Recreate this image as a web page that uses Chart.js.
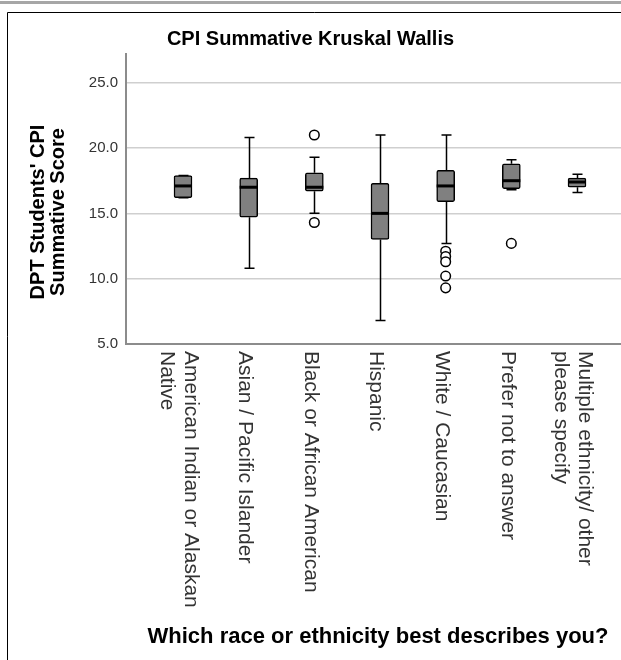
<!DOCTYPE html>
<html><head><meta charset="utf-8">
<script src="https://cdn.jsdelivr.net/npm/chart.js@4.4.0/dist/chart.umd.min.js"></script>
<style>html,body{margin:0;padding:0;background:#fff;} #wrap{width:621px;height:660px;position:relative;}</style>
</head><body><div id="wrap"><canvas id="c" width="621" height="660"></canvas></div>
<script>
const categories = [
  ["American Indian or Alaskan", "Native"],
  ["Asian / Pacific Islander"],
  ["Black or African American"],
  ["Hispanic"],
  ["White / Caucasian"],
  ["Prefer not to answer"],
  ["Multiple ethnicity/ other", "please specify"]
];
const positions   = [1, 2, 3, 4, 5, 6, 7];
const whiskerLow  = [16.2, 10.8, 15.0, 6.8, 12.7, 16.8, 16.6];
const q1          = [16.2, 14.7, 16.7, 13.0, 15.9, 16.9, 17.0];
const median      = [17.1, 17.0, 17.0, 15.0, 17.1, 17.5, 17.4];
const q3          = [17.9, 17.7, 18.1, 17.3, 18.3, 18.8, 17.7];
const whiskerHigh = [17.9, 20.8, 19.3, 21.0, 21.0, 19.1, 18.0];
const outliers    = [[], [], [21.0, 14.3], [], [12.1, 11.7, 11.3, 10.2, 9.3], [12.7], []];
const yTicks      = [5, 10, 15, 20, 25];

const chartTitle = "CPI Summative Kruskal Wallis";
const yTitle = ["DPT Students' CPI", "Summative Score"];
const xTitle = "Which race or ethnicity best describes you?";

const FONT = "'Liberation Sans', Arial, sans-serif";

const framePlugin = {
  id: 'frame',
  beforeDraw(chart) {
    const ctx = chart.ctx;
    ctx.save();
    ctx.fillStyle = '#fff';
    ctx.fillRect(0, 0, chart.width, chart.height);
    ctx.fillStyle = '#a6a6a6';
    ctx.fillRect(0, 1, chart.width, 3);
    ctx.strokeStyle = '#000';
    ctx.lineWidth = 1;
    ctx.beginPath();
    ctx.moveTo(7.5, chart.height);
    ctx.lineTo(7.5, 12.5);
    ctx.lineTo(chart.width, 12.5);
    ctx.stroke();
    ctx.restore();
  }
};

const boxPartsPlugin = {
  id: 'boxparts',
  beforeDatasetsDraw(chart) {
    const ctx = chart.ctx, xs = chart.scales.x, ys = chart.scales.y;
    ctx.save();
    ctx.strokeStyle = '#000';
    ctx.lineWidth = 1.5;
    positions.forEach((p, i) => {
      const x = Math.round(xs.getPixelForValue(p)) + 0.5;
      const yl = ys.getPixelForValue(whiskerLow[i]);
      const yh = ys.getPixelForValue(whiskerHigh[i]);
      const y1 = ys.getPixelForValue(q1[i]);
      const y3 = ys.getPixelForValue(q3[i]);
      ctx.beginPath();
      ctx.moveTo(x, yl); ctx.lineTo(x, y1);
      ctx.moveTo(x, y3); ctx.lineTo(x, yh);
      ctx.moveTo(x - 5, yl); ctx.lineTo(x + 5, yl);
      ctx.moveTo(x - 5, yh); ctx.lineTo(x + 5, yh);
      ctx.stroke();
    });
    ctx.restore();
  },
  afterDatasetsDraw(chart) {
    const ctx = chart.ctx, xs = chart.scales.x, ys = chart.scales.y;
    ctx.save();
    ctx.strokeStyle = '#000';
    ctx.lineWidth = 3;
    positions.forEach((p, i) => {
      const x = xs.getPixelForValue(p);
      const ym = ys.getPixelForValue(median[i]);
      ctx.beginPath();
      ctx.moveTo(x - 9, ym); ctx.lineTo(x + 9, ym);
      ctx.stroke();
    });
    ctx.restore();
  },
  afterDraw(chart) {
    const ctx = chart.ctx, xs = chart.scales.x;
    ctx.save();
    ctx.font = '21px ' + FONT;
    ctx.fillStyle = '#333';
    ctx.textAlign = 'left';
    ctx.textBaseline = 'middle';
    categories.forEach((lines, i) => {
      const x = xs.getPixelForValue(positions[i]) - 4;
      const n = lines.length;
      lines.forEach((t, j) => {
        const cx = x + ((n - 1) / 2 - j) * 24;
        ctx.save();
        ctx.translate(cx, 351);
        ctx.rotate(Math.PI / 2);
        ctx.fillText(t, 0, 0);
        ctx.restore();
      });
    });
    ctx.fillStyle = '#000';
    ctx.font = 'bold 20px ' + FONT;
    ctx.textAlign = 'center';
    ctx.save();
    ctx.translate(38, 212);
    ctx.rotate(-Math.PI / 2);
    yTitle.forEach((t, j) => ctx.fillText(t, 0, j * 20));
    ctx.restore();
    ctx.font = 'bold 22px ' + FONT;
    ctx.fillText(xTitle, 378, 637);
    ctx.restore();
  }
};

const outlierPoints = [];
outliers.forEach((arr, i) => arr.forEach(v => outlierPoints.push({x: positions[i], y: v})));

new Chart(document.getElementById('c'), {
  type: 'bar',
  data: {
    datasets: [
      {
        type: 'bar',
        data: positions.map((p, i) => ({x: p, y: [q1[i], q3[i]]})),
        backgroundColor: '#808080',
        borderColor: '#000',
        borderWidth: 1.5,
        borderRadius: 2,
        borderSkipped: false,
        barThickness: 18,
        order: 2
      },
      {
        type: 'scatter',
        data: outlierPoints,
        pointRadius: 4.8,
        pointBackgroundColor: '#fff',
        pointBorderColor: '#000',
        pointBorderWidth: 1.5,
        order: 1
      }
    ]
  },
  options: {
    responsive: false,
    animation: false,
    layout: {padding: {left: 0, top: 0, bottom: 0, right: 0}, autoPadding: false},
    plugins: {
      legend: {display: false},
      tooltip: {enabled: false},
      title: {
        display: true, text: chartTitle, color: '#000',
        font: {family: FONT, size: 20, weight: 'bold', lineHeight: 1.2},
        padding: {top: 27, bottom: 3}
      }
    },
    scales: {
      x: {
        type: 'linear', min: 0.132, max: 7.67, offset: false,
        grid: {display: false},
        border: {display: true, color: '#8c8c8c', width: 2},
        ticks: {display: false},
        afterFit(s) { s.height = 316; }
      },
      y: {
        min: 5, max: 27.2,
        afterBuildTicks(s) { s.ticks = yTicks.map(v => ({value: v})); },
        ticks: {callback: v => Number(v).toFixed(1), font: {family: FONT, size: 15}, color: '#333', padding: 8},
        grid: {color: '#cfcfcf', lineWidth: 1.5, drawTicks: false},
        border: {display: true, color: '#8c8c8c', width: 2},
        afterFit(s) { s.width = 126; }
      }
    }
  },
  plugins: [framePlugin, boxPartsPlugin]
});
</script>
</body></html>
